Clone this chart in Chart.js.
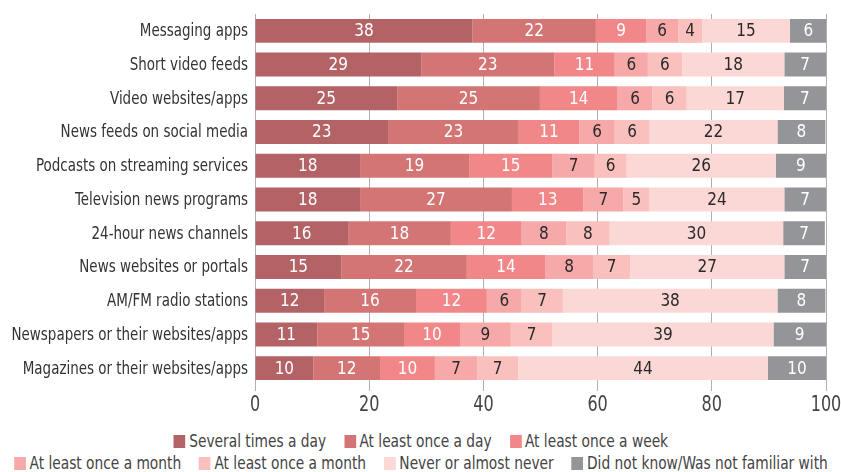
<!DOCTYPE html>
<html>
<head>
<meta charset="utf-8">
<script src="https://cdn.jsdelivr.net/npm/chart.js@4"></script>
<style>
  html, body { margin: 0; padding: 0; background: #fff; overflow: hidden; }
  #wrap { position: relative; width: 841px; height: 472px; overflow: hidden; }
  #chartBox { position: absolute; left: 0; top: 0; width: 841px; height: 425px; }
  #legend { position: absolute; left: -79.5px; top: 430px; width: 1000px;
    transform: scaleX(0.9); transform-origin: center top;
    font-family: 'DejaVu Sans Condensed', sans-serif;
    font-size: 17px; color: #444; }
  .row { display: flex; justify-content: center; height: 22px; align-items: center; }
  .item { display: flex; align-items: center; margin: 0 10px; white-space: nowrap; }
  .box { width: 13px; height: 13px; margin-right: 4px; }
</style>
</head>
<body>
<div id="wrap">
  <div id="chartBox"><canvas id="newsChart"></canvas></div>
  <div id="legend"></div>
</div>
<script>
var categories = [
    "Messaging apps",
    "Short video feeds",
    "Video websites/apps",
    "News feeds on social media",
    "Podcasts on streaming services",
    "Television news programs",
    "24-hour news channels",
    "News websites or portals",
    "AM/FM radio stations",
    "Newspapers or their websites/apps",
    "Magazines or their websites/apps"
];
var seriesNames = [
    "Several times a day",
    "At least once a day",
    "At least once a week",
    "At least once a month",
    "At least once a month",
    "Never or almost never",
    "Did not know/Was not familiar with"
];
var several    = [38.1, 29.1, 24.9, 23.3, 18.4, 18.4, 16.3, 15.1, 12.1, 10.9, 10.2];
var daily      = [21.6, 23.3, 25.0, 22.9, 19.1, 26.6, 18.0, 22.0, 16.1, 15.2, 11.7];
var weekly     = [8.8, 10.6, 13.6, 10.6, 14.6, 12.5, 12.4, 13.7, 12.4, 9.8, 9.6];
var monthly    = [5.6, 5.8, 6.1, 6.2, 7.4, 7.0, 7.8, 8.4, 6.1, 8.9, 7.4];
var monthly2   = [4.2, 6.0, 6.0, 6.1, 5.6, 4.6, 7.6, 6.5, 7.2, 7.3, 7.2];
var never      = [15.4, 17.9, 17.0, 22.4, 26.1, 23.6, 30.4, 27.0, 37.6, 38.7, 43.7];
var unfamiliar = [6.4, 7.3, 7.4, 8.4, 8.8, 7.3, 7.3, 7.3, 8.4, 9.2, 10.2];
var xTicks = [0, 20, 40, 60, 80, 100];

var seriesData = [several, daily, weekly, monthly, monthly2, never, unfamiliar];
var colors = ['#b36266', '#d47575', '#f2878a', '#f7a8a8', '#f9c0bd', '#fbd8d6', '#949599'];
var labelColors = ['#fff', '#fff', '#fff', '#2a2a2a', '#2a2a2a', '#2a2a2a', '#fff'];
var fontName = "'DejaVu Sans Condensed', sans-serif";

Chart.defaults.font.family = fontName;

// value in the middle of each segment
var barLabels = {
    id: 'barLabels',
    afterDatasetsDraw: function (chart) {
        var c = chart.ctx;
        c.save();
        c.font = "17px " + fontName;
        c.textAlign = 'center';
        c.textBaseline = 'middle';
        chart.data.datasets.forEach(function (ds, i) {
            var meta = chart.getDatasetMeta(i);
            meta.data.forEach(function (bar, j) {
                var p = bar.getProps(['x', 'base', 'y'], true);
                c.fillStyle = labelColors[i];
                c.fillText(Math.round(ds.data[j]), (p.x + p.base) / 2, p.y + 1);
            });
        });
        c.restore();
    }
};

// axis texts, squeezed a little to look like the narrow face of the original
function narrowText(c, txt, x, y, sx) {
    c.save();
    c.translate(x, y);
    c.scale(sx, 1);
    c.fillText(txt, 0, 0);
    c.restore();
}

var axisLabels = {
    id: 'axisLabels',
    afterDraw: function (chart) {
        var c = chart.ctx;
        var ys = chart.scales.y;
        var xs = chart.scales.x;
        c.save();
        c.font = "17px " + fontName;
        c.fillStyle = '#333';
        c.textAlign = 'right';
        c.textBaseline = 'middle';
        chart.data.labels.forEach(function (lab, i) {
            narrowText(c, lab, ys.right - 7, ys.getPixelForValue(i) + 1, 0.88);
        });
        c.font = "21px " + fontName;
        c.fillStyle = '#444';
        c.textAlign = 'center';
        xTicks.forEach(function (v) {
            narrowText(c, String(v), xs.getPixelForValue(v), xs.top + 21, 0.85);
        });
        c.restore();
    }
};

var ctx = document.getElementById("newsChart");
var myChart = new Chart(ctx, {
    type: 'bar',
    data: {
        labels: categories,
        datasets: seriesData.map(function (d, i) {
            return {
                label: seriesNames[i],
                data: d,
                backgroundColor: colors[i],
                borderWidth: 0,
                barPercentage: 0.71,
                categoryPercentage: 1
            };
        })
    },
    options: {
        indexAxis: 'y',
        responsive: true,
        maintainAspectRatio: false,
        animation: false,
        layout: { padding: { top: 14, right: 15, left: 0, bottom: 0 } },
        plugins: {
            legend: { display: false },
            tooltip: { enabled: false }
        },
        scales: {
            x: {
                stacked: true,
                min: 0,
                max: 100,
                afterBuildTicks: function (scale) {
                    scale.ticks = xTicks.map(function (v) { return { value: v }; });
                },
                afterFit: function (scale) {
                    scale.height = 40;
                    scale.paddingLeft = 0;
                    scale.paddingRight = 0;
                },
                grid: { color: '#b0b0b0', tickLength: 6, lineWidth: 1 },
                border: { display: false },
                ticks: { display: false }
            },
            y: {
                stacked: true,
                afterFit: function (scale) { scale.width = 255; },
                grid: { display: false },
                border: { display: false },
                ticks: { display: false }
            }
        }
    },
    plugins: [barLabels, axisLabels]
});

// html legend, two centred rows as in the original
var legendRows = [[0, 1, 2], [3, 4, 5, 6]];
var legendEl = document.getElementById('legend');
legendRows.forEach(function (row) {
    var r = document.createElement('div');
    r.className = 'row';
    row.forEach(function (i) {
        var it = document.createElement('div');
        it.className = 'item';
        var b = document.createElement('span');
        b.className = 'box';
        b.style.background = colors[i];
        var t = document.createElement('span');
        t.textContent = seriesNames[i];
        it.appendChild(b);
        it.appendChild(t);
        r.appendChild(it);
    });
    legendEl.appendChild(r);
});
</script>
</body>
</html>
